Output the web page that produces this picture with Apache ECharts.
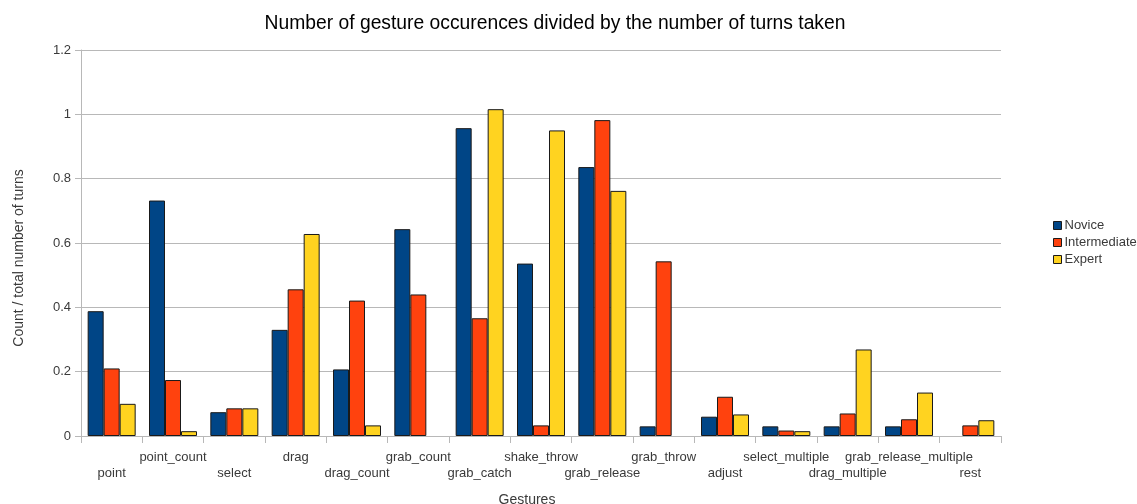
<!DOCTYPE html>
<html>
<head>
<meta charset="utf-8">
<style>
  html, body { margin: 0; padding: 0; background: #fff; }
  #chart { width: 1137px; height: 504px; }
</style>
<script src="https://cdn.jsdelivr.net/npm/echarts@6/dist/echarts.min.js"></script>
</head>
<body>
<div id="chart"></div>
<script>
// Gesture categories along the x axis
const gestures = [
  'point', 'point_count', 'select', 'drag', 'drag_count', 'grab_count',
  'grab_catch', 'shake_throw', 'grab_release', 'grab_throw', 'adjust',
  'select_multiple', 'drag_multiple', 'grab_release_multiple', 'rest'
];

// Occurrences per turn for each experience level (null = no bar)
const novice = [0.388, 0.732, 0.074, 0.330, 0.207, 0.643, 0.957, 0.536, 0.836, 0.030, 0.060, 0.030, 0.030, 0.030, null];
const intermediate = [0.210, 0.174, 0.086, 0.456, 0.421, 0.440, 0.366, 0.033, 0.982, 0.543, 0.122, 0.017, 0.070, 0.052, 0.033];
const expert = [0.100, 0.015, 0.086, 0.628, 0.033, null, 1.016, 0.950, 0.762, null, 0.067, 0.015, 0.269, 0.135, 0.049];

const seriesNames = ['Novice', 'Intermediate', 'Expert'];
const seriesColors = ['#004586', '#ff420e', '#ffd320'];

const FONT = '"Liberation Sans", Arial, sans-serif';
const TEXT = '#3a3a3a';
const GRID = '#b8b8b8';

const chart = echarts.init(document.getElementById('chart'), null, { renderer: 'canvas' });

const makeBar = (name, data, color) => ({
  name: name,
  type: 'bar',
  data: data,
  barWidth: 16,
  barGap: '0%',
  itemStyle: { color: color, borderColor: '#1a1a1a', borderWidth: 1 },
  emphasis: { disabled: true }
});

chart.setOption({
  animation: false,
  textStyle: { fontFamily: FONT },
  title: {
    text: 'Number of gesture occurences divided by the number of turns taken',
    left: 550,
    textAlign: 'center',
    top: 9,
    textStyle: { fontFamily: FONT, fontSize: 19.3, fontWeight: 'normal', color: '#000' }
  },
  legend: {
    orient: 'vertical',
    left: 1048,
    top: 214,
    itemWidth: 8,
    itemHeight: 8,
    itemGap: 4,
    icon: 'rect',
    data: seriesNames,
    textStyle: { fontFamily: FONT, fontSize: 13, color: TEXT, padding: [0, 0, 0, -2] },
    itemStyle: { borderColor: '#1a1a1a', borderWidth: 1 }
  },
  grid: { left: 81, right: 136, top: 50, bottom: 68, containLabel: false, outerBoundsMode: 'none' },
  xAxis: {
    type: 'category',
    data: gestures,
    name: 'Gestures',
    nameLocation: 'middle',
    nameGap: 57,
    nameTextStyle: { fontFamily: FONT, fontSize: 14, color: TEXT, padding: [0, 28, 0, 0] },
    axisLine: { lineStyle: { color: GRID, width: 1 } },
    axisTick: { show: true, alignWithLabel: false, length: 7, lineStyle: { color: GRID } },
    axisLabel: {
      interval: 0,
      margin: 13,
      fontFamily: FONT,
      fontSize: 13,
      lineHeight: 16,
      color: TEXT,
      formatter: (value, index) => (index % 2 === 0 ? '\n' + value : value)
    }
  },
  yAxis: {
    type: 'value',
    min: 0,
    max: 1.2,
    interval: 0.2,
    name: 'Count / total number of turns',
    nameLocation: 'middle',
    nameGap: 55,
    nameTextStyle: { fontFamily: FONT, fontSize: 14, color: TEXT, padding: [0, 30, 0, 0] },
    axisLine: { show: true, lineStyle: { color: GRID, width: 1 } },
    axisTick: { show: true, length: 6, lineStyle: { color: GRID } },
    axisLabel: { fontFamily: FONT, fontSize: 13, color: TEXT, margin: 10 },
    splitLine: { show: true, lineStyle: { color: GRID, width: 1 } }
  },
  series: [
    makeBar(seriesNames[0], novice, seriesColors[0]),
    makeBar(seriesNames[1], intermediate, seriesColors[1]),
    makeBar(seriesNames[2], expert, seriesColors[2])
  ]
});
</script>
</body>
</html>
